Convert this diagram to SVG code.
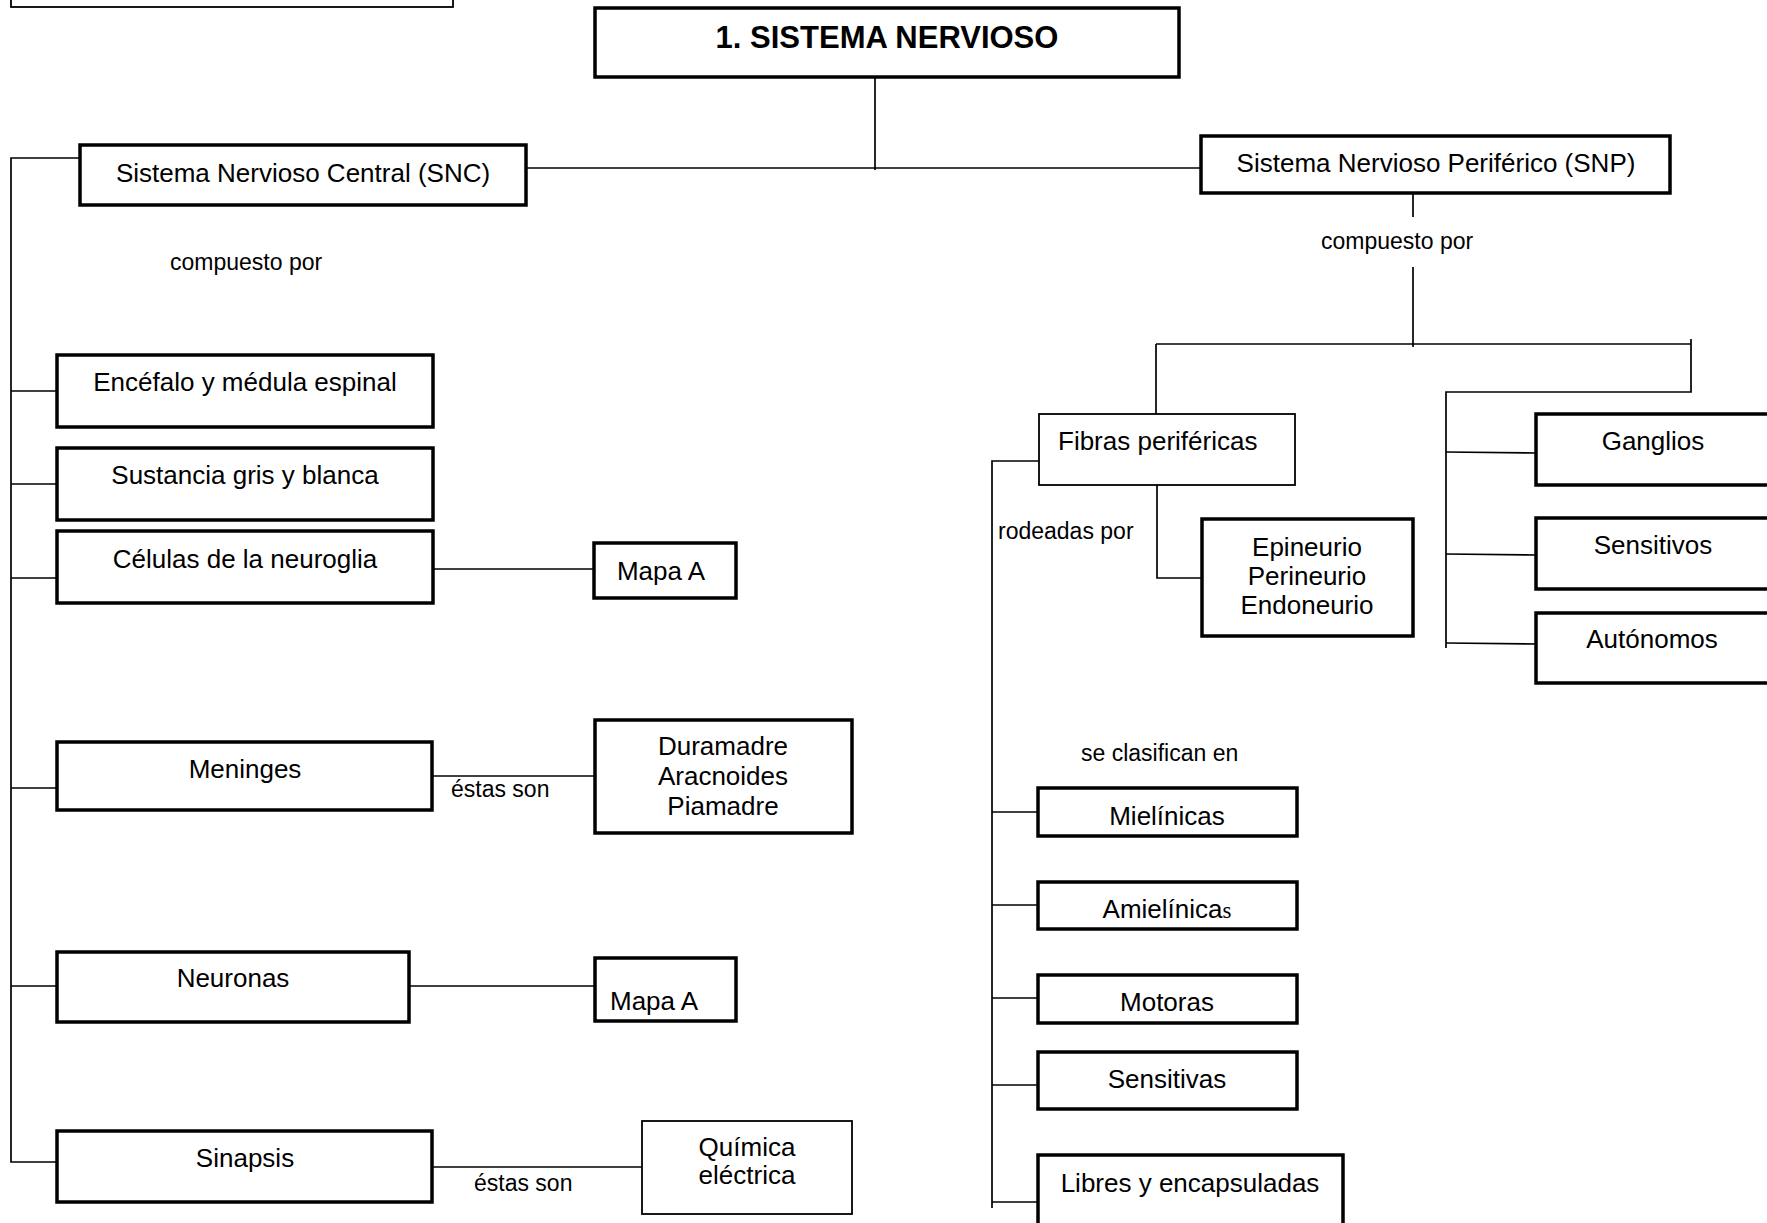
<svg xmlns="http://www.w3.org/2000/svg" width="1767" height="1223" viewBox="0 0 1767 1223">
  <style>
    .box { fill: #ffffff; stroke: #000000; stroke-width: 3.5; }
    .thin { fill: #ffffff; stroke: #000000; stroke-width: 1.8; }
    .lbl { font-family: "Liberation Sans", Arial, sans-serif; font-size: 26px; fill: #000000; }
    .mid { text-anchor: middle; }
    .small { font-family: "Liberation Sans", Arial, sans-serif; font-size: 23px; fill: #000000; }
    .title { font-family: "Liberation Sans", Arial, sans-serif; font-size: 31px; font-weight: bold; fill: #000000; text-anchor: middle; }
    .conn line, .conn polyline { stroke: #000000; stroke-width: 1.7; fill: none; }
  </style>
  <rect width="1767" height="1223" fill="#ffffff"/>

  <!-- connectors -->
  <g id="connectors" class="conn">
    <line x1="875" y1="77" x2="875" y2="170"/>
    <line x1="526" y1="168" x2="1201" y2="168"/>
    <line x1="1413" y1="193" x2="1413" y2="217"/>
    <line x1="1413" y1="267" x2="1413" y2="347"/>
    <line x1="1156" y1="344" x2="1691" y2="344"/>
    <line x1="1156" y1="344" x2="1156" y2="414"/>
    <polyline points="1691,339 1691,392 1446,392 1446,648"/>
    <line x1="1446" y1="452" x2="1536" y2="453"/>
    <line x1="1446" y1="554" x2="1536" y2="555"/>
    <line x1="1446" y1="643" x2="1536" y2="644"/>
    <polyline points="1157,485 1157,578 1202,578"/>
    <polyline points="1039,461 992,461 992,1208"/>
    <line x1="992" y1="812" x2="1038" y2="812"/>
    <line x1="992" y1="905" x2="1038" y2="905"/>
    <line x1="992" y1="998" x2="1038" y2="998"/>
    <line x1="992" y1="1085" x2="1038" y2="1085"/>
    <line x1="992" y1="1202" x2="1038" y2="1202"/>
    <polyline points="80,158 11,158 11,1162 57,1162"/>
    <line x1="11" y1="391" x2="57" y2="391"/>
    <line x1="11" y1="484" x2="57" y2="484"/>
    <line x1="11" y1="578" x2="57" y2="578"/>
    <line x1="11" y1="788" x2="57" y2="788"/>
    <line x1="11" y1="986" x2="57" y2="986"/>
    <line x1="433" y1="569" x2="594" y2="569"/>
    <line x1="432" y1="776" x2="595" y2="776"/>
    <line x1="409" y1="986" x2="595" y2="986"/>
    <line x1="432" y1="1167" x2="642" y2="1167"/>
  </g>

  <!-- link labels -->
  <g id="labels">
    <text class="small" x="170" y="270">compuesto por</text>
    <text class="small" x="1321" y="249">compuesto por</text>
    <text class="small" x="998" y="539">rodeadas por</text>
    <text class="small" x="1081" y="761">se clasifican en</text>
    <text class="small" x="451" y="797">éstas son</text>
    <text class="small" x="474" y="1191">éstas son</text>
  </g>

  <g id="header-box"><rect class="thin" x="11" y="-50" width="442" height="57"/></g>

  <g id="title">
    <rect class="box" x="595" y="8" width="584" height="69"/>
    <text class="title" x="887" y="48">1. SISTEMA NERVIOSO</text>
  </g>

  <g id="snc">
    <rect class="box" x="80" y="145" width="446" height="60"/>
    <text class="lbl mid" x="303" y="182">Sistema Nervioso Central (SNC)</text>
  </g>
  <g id="snp">
    <rect class="box" x="1201" y="136" width="469" height="57"/>
    <text class="lbl mid" x="1436" y="172">Sistema Nervioso Periférico (SNP)</text>
  </g>

  <g id="encefalo">
    <rect class="box" x="57" y="355" width="376" height="72"/>
    <text class="lbl mid" x="245" y="391">Encéfalo y médula espinal</text>
  </g>
  <g id="sustancia">
    <rect class="box" x="57" y="448" width="376" height="72"/>
    <text class="lbl mid" x="245" y="484">Sustancia gris y blanca</text>
  </g>
  <g id="celulas">
    <rect class="box" x="57" y="531" width="376" height="72"/>
    <text class="lbl mid" x="245" y="568">Células de la neuroglia</text>
  </g>
  <g id="mapa-a-1">
    <rect class="box" x="594" y="543" width="142" height="55"/>
    <text class="lbl mid" x="661" y="580">Mapa A</text>
  </g>
  <g id="meninges">
    <rect class="box" x="57" y="742" width="375" height="68"/>
    <text class="lbl mid" x="245" y="778">Meninges</text>
  </g>
  <g id="duramadre">
    <rect class="box" x="595" y="720" width="257" height="113"/>
    <text class="lbl mid" x="723" y="755">Duramadre</text>
    <text class="lbl mid" x="723" y="785">Aracnoides</text>
    <text class="lbl mid" x="723" y="815">Piamadre</text>
  </g>
  <g id="neuronas">
    <rect class="box" x="57" y="952" width="352" height="70"/>
    <text class="lbl mid" x="233" y="987">Neuronas</text>
  </g>
  <g id="mapa-a-2">
    <rect class="box" x="595" y="958" width="141" height="63"/>
    <text class="lbl" x="610" y="1010">Mapa A</text>
  </g>
  <g id="sinapsis">
    <rect class="box" x="57" y="1131" width="375" height="71"/>
    <text class="lbl mid" x="245" y="1167">Sinapsis</text>
  </g>
  <g id="quimica">
    <rect class="thin" x="642" y="1121" width="210" height="93"/>
    <text class="lbl mid" x="747" y="1156">Química</text>
    <text class="lbl mid" x="747" y="1184">eléctrica</text>
  </g>

  <g id="fibras">
    <rect class="thin" x="1039" y="414" width="256" height="71"/>
    <text class="lbl" x="1058" y="450">Fibras periféricas</text>
  </g>
  <g id="epineurio">
    <rect class="box" x="1202" y="519" width="211" height="117"/>
    <text class="lbl mid" x="1307" y="556">Epineurio</text>
    <text class="lbl mid" x="1307" y="585">Perineurio</text>
    <text class="lbl mid" x="1307" y="614">Endoneurio</text>
  </g>
  <g id="ganglios">
    <rect class="box" x="1536" y="414" width="260" height="71"/>
    <text class="lbl mid" x="1653" y="450">Ganglios</text>
  </g>
  <g id="sensitivos">
    <rect class="box" x="1536" y="518" width="260" height="71"/>
    <text class="lbl mid" x="1653" y="554">Sensitivos</text>
  </g>
  <g id="autonomos">
    <rect class="box" x="1536" y="613" width="260" height="70"/>
    <text class="lbl mid" x="1652" y="648">Autónomos</text>
  </g>

  <g id="mielinicas">
    <rect class="box" x="1038" y="788" width="259" height="48"/>
    <text class="lbl mid" x="1167" y="825">Mielínicas</text>
  </g>
  <g id="amielinicas">
    <rect class="box" x="1038" y="882" width="259" height="47"/>
    <text class="lbl mid" x="1167" y="918">Amielínica<tspan font-family="'Liberation Serif', 'Times New Roman', serif" font-size="23">s</tspan></text>
  </g>
  <g id="motoras">
    <rect class="box" x="1038" y="975" width="259" height="48"/>
    <text class="lbl mid" x="1167" y="1011">Motoras</text>
  </g>
  <g id="sensitivas">
    <rect class="box" x="1038" y="1052" width="259" height="57"/>
    <text class="lbl mid" x="1167" y="1088">Sensitivas</text>
  </g>
  <g id="libres">
    <rect class="box" x="1038" y="1155" width="305" height="100"/>
    <text class="lbl mid" x="1190" y="1192">Libres y encapsuladas</text>
  </g>
</svg>
